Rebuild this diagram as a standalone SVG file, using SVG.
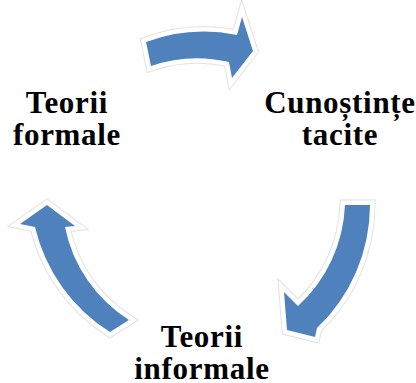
<svg xmlns="http://www.w3.org/2000/svg" width="416" height="383" viewBox="0 0 416 383">
  <style>
    .lbl { font-family: 'Liberation Serif', 'Times New Roman', Times, 'Noto Serif', 'DejaVu Serif', 'Nimbus Roman', 'Nimbus Roman No9 L', FreeSerif, Tinos, Georgia, serif; font-weight: bold; font-size: 31px; fill: #000; text-anchor: middle; letter-spacing: 0.7px; }
    .halo { fill: none; stroke: #e2e2e2; stroke-width: 11; stroke-linejoin: miter; stroke-miterlimit: 6; }
    .rim { fill: none; stroke: #ffffff; stroke-width: 9; stroke-linejoin: miter; stroke-miterlimit: 6; }
    .body { fill: #4F81BD; stroke: none; }
  </style>
  <defs>
    <path id="a-top" d="M 146,42 A 166 166 0 0 1 237,35 L 242,17 L 253,51 L 232,78 L 229,62 A 141 141 0 0 0 151,66 Z"/>
    <path id="a-right" d="M 345,205 L 370,205 A 170 170 0 0 1 317,328 L 315,337 L 287,330 L 284,292 L 298,306 A 145 145 0 0 0 345,205 Z"/>
    <path id="a-left" d="M 129,320 L 110,332 A 170 170 0 0 1 35,227 L 20,224 L 47,205 L 75,226 L 65,227 A 143 143 0 0 0 129,320 Z"/>
  </defs>
  <rect width="416" height="383" fill="#ffffff"/>
  <g id="connectors">
    <g id="arrow-top">
      <use href="#a-top" class="halo"/>
      <use href="#a-top" class="rim"/>
      <use href="#a-top" class="body"/>
    </g>
    <g id="arrow-right">
      <use href="#a-right" class="halo"/>
      <use href="#a-right" class="rim"/>
      <use href="#a-right" class="body"/>
    </g>
    <g id="arrow-left">
      <use href="#a-left" class="halo"/>
      <use href="#a-left" class="rim"/>
      <use href="#a-left" class="body"/>
    </g>
  </g>
  <g id="node-teorii-formale">
    <text class="lbl" x="67" y="113">Teorii</text>
    <text class="lbl" x="67" y="145">formale</text>
  </g>
  <g id="node-cunostinte-tacite">
    <text class="lbl" x="340" y="113">Cunoștințe</text>
    <text class="lbl" x="340" y="145">tacite</text>
  </g>
  <g id="node-teorii-informale">
    <text class="lbl" x="202" y="347">Teorii</text>
    <text class="lbl" x="202" y="379">informale</text>
  </g>
</svg>
